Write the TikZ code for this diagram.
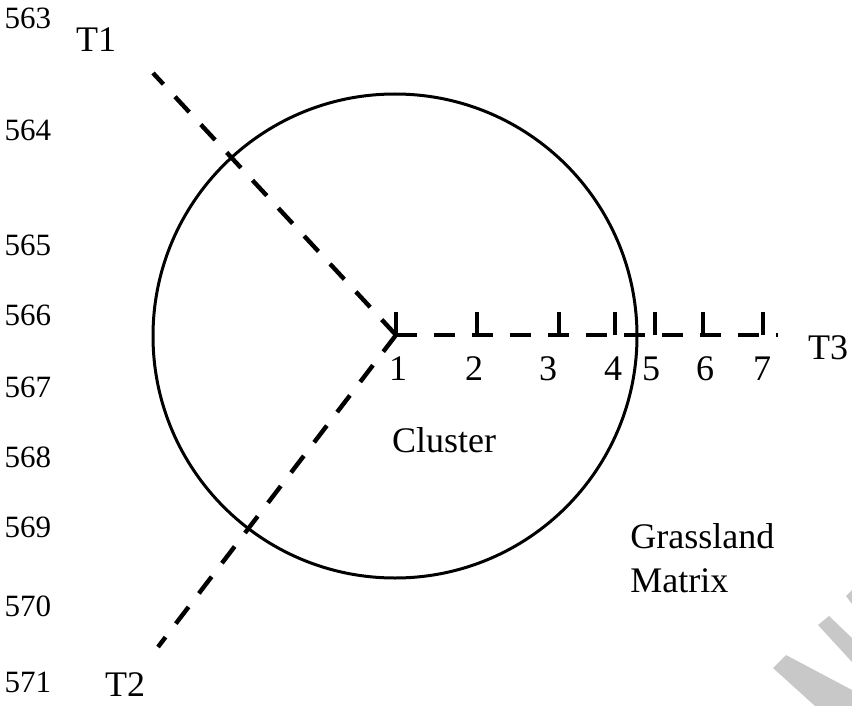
\documentclass[tikz,border=0pt]{standalone}
\usepackage{fontspec}
\setmainfont{Liberation Serif}
\usepackage{xcolor}
\usetikzlibrary{positioning}
\definecolor{wmgrey}{RGB}{200,200,200}
\tikzset{
  transect/.style={line width=2.2pt,dash pattern=on 10.5pt off 8.5pt},
  tickmark/.style={line width=2.2pt},
  lbl/.style={font=\fontsize{18}{22}\selectfont,inner sep=0pt},
  linenum/.style={font=\fontsize{15.5}{18}\selectfont,inner sep=0pt},
}

\begin{document}
\begin{tikzpicture}[x=0.5pt,y=-0.5pt]
\useasboundingbox (0,0) rectangle (852,706);
% watermark
\fill[wmgrey] (773,668) -- (786,655) -- (852,690) -- (852,706) -- (815,706) -- cycle;
\fill[wmgrey] (818,625) -- (829,616) -- (852,638) -- (852,662) -- cycle;
\fill[wmgrey] (846,596) -- (852,590) -- (852,604) -- cycle;
% cluster and transects
\coordinate (c) at (396,335);
\coordinate (t1end) at (153,73);
\coordinate (t2end) at (158,647);
\coordinate (t3end) at (778,335);
\node[circle,draw,line width=1.5pt,minimum size=242pt,inner sep=0pt] (cluster) at (395,336) {};
\draw[transect] (c) -- (t1end);
\draw[transect] (c) -- (t2end);
\draw[transect] (c) -- (t3end);
\foreach \x/\lx/\n in {396/398/1,477/474/2,559/548/3,615/613/4,655/651/5,703/705/6,763/762/7}{
  \draw[tickmark] (\x,335) -- (\x,312);
  \node[lbl,anchor=base] (p\n) at (\lx,380) {\n};
}
\node[lbl] (t1) at (96,40) {T1};
\node[lbl] (t2) at (125,685) {T2};
\node[lbl] (t3) at (828,348) {T3};
\node[lbl] (clabel) at (444,440) {Cluster};
\node[lbl,anchor=base west] (grass) at (630,548) {Grassland};
\node[lbl,anchor=base west] (matrix) at (630,592) {Matrix};
% line numbers
\foreach \n/\y in {563/18,564/130,565/245,566/315,567/387,568/457,569/527,570/606,571/682}
  \node[linenum] (ln\n) at (28,\y) {\n};
\end{tikzpicture}
\end{document}
